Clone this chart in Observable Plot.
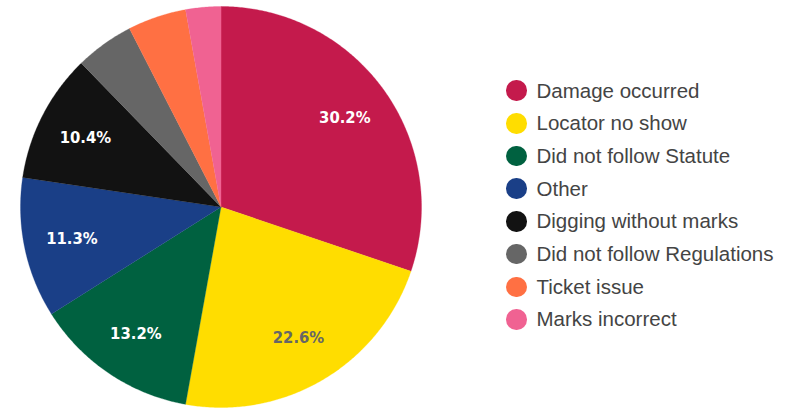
<!DOCTYPE html>
<html><head><meta charset="utf-8">
<script src="https://cdn.jsdelivr.net/npm/d3@7"></script>
<script src="https://cdn.jsdelivr.net/npm/@observablehq/plot@0.6"></script>
<style>
body{margin:0;background:#fff;font-family:"Liberation Sans",Arial,sans-serif;}
#wrap{position:relative;width:798px;height:409px;}
#chart{position:absolute;left:0;top:0;}
#legend{position:absolute;left:506px;top:74.3px;}
.item{display:flex;align-items:center;height:32.7px;}
.sw{width:20.5px;height:20.5px;border-radius:50%;margin-right:10px;flex:none;}
.lab{font-size:20.5px;color:#444;white-space:nowrap;}
</style>
</head><body>
<div id="wrap"><div id="chart"></div><div id="legend"></div></div>
<script>
const categories = ["Damage occurred","Locator no show","Did not follow Statute","Other","Digging without marks","Did not follow Regulations","Ticket issue","Marks incorrect"];
const counts = [32,24,14,12,11,5,5,3];
const colors = ["#c41a4c","#ffdd00","#006140","#1a3f87","#121212","#666666","#ff7043","#f06292"];
const labelColors = ["#fff","#666","#fff","#fff","#fff","#fff","#fff","#fff"];
const minLabelShare = 0.08;

const total = d3.sum(counts);
let acc = 0;
const slices = categories.map((c,i)=>{
  const a0 = acc/total*2*Math.PI; acc += counts[i]; const a1 = acc/total*2*Math.PI;
  const pts = [[0,0]];
  const n = Math.max(2, Math.ceil((a1-a0)/(Math.PI/360)));
  for (let k=0;k<=n;k++){ const a=a0+(a1-a0)*k/n; pts.push([Math.sin(a),Math.cos(a)]); }
  pts.push([0,0]);
  const mid=(a0+a1)/2;
  return {name:c, share:counts[i]/total, color:colors[i], lc:labelColors[i],
    feature:{type:"Feature",properties:{name:c},geometry:{type:"Polygon",coordinates:[pts]}},
    lx:0.76*Math.sin(mid), ly:0.76*Math.cos(mid)};
});
const circle = {type:"Polygon",coordinates:[d3.range(0,361,2).map(d=>[Math.sin(d*Math.PI/180),Math.cos(d*Math.PI/180)])]};
const labeled = slices.filter(s=>s.share>=minLabelShare);

const plot = Plot.plot({
  width:441, height:409,
  marginTop:6, marginBottom:2, marginLeft:20, marginRight:20,
  projection:{type:"reflect-y", domain:circle},
  marks:[
    Plot.geo(slices.map(s=>s.feature), {fill:(d,i)=>colors[i], stroke:(d,i)=>colors[i], strokeWidth:0.3}),
    Plot.text(labeled, {x:"lx", y:"ly", text:d=>(d.share*100).toFixed(1)+"%", fill:"lc",
      fontFamily:"DejaVu Sans Condensed", fontWeight:"bold", fontSize:16.5})
  ]
});
document.getElementById("chart").appendChild(plot);

const lg = d3.select("#legend");
categories.forEach((c,i)=>{
  const it = lg.append("div").attr("class","item");
  it.append("div").attr("class","sw").style("background",colors[i]);
  it.append("div").attr("class","lab").text(c);
});
</script>
</body></html>
